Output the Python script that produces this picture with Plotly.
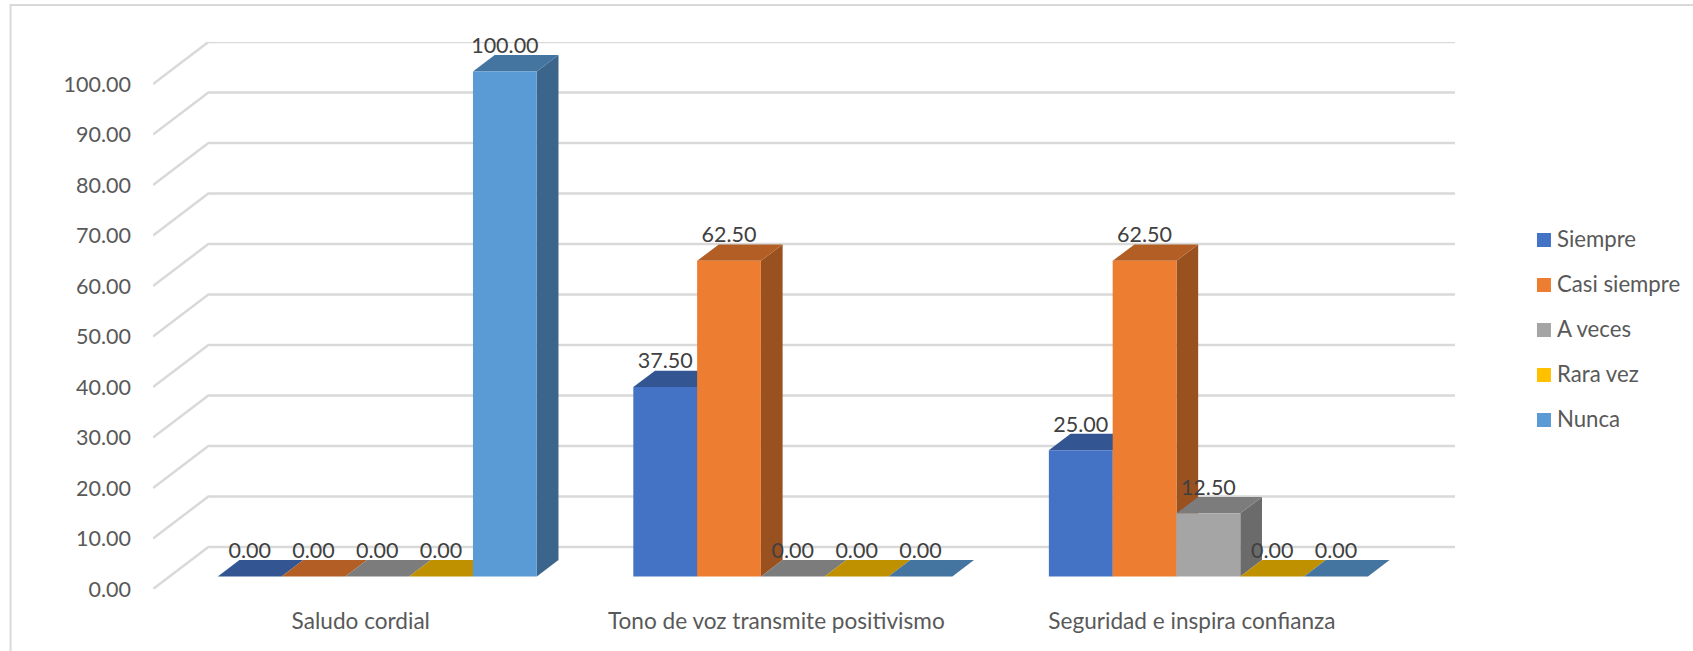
import plotly.graph_objects as go

# Survey results per item, in percent
categories = ["Saludo cordial", "Tono de voz transmite positivismo", "Seguridad e inspira confianza"]
siempre = [0.0, 37.5, 25.0]
casi_siempre = [0.0, 62.5, 62.5]
a_veces = [0.0, 0.0, 12.5]
rara_vez = [0.0, 0.0, 0.0]
nunca = [100.0, 0.0, 0.0]
series_names = ["Siempre", "Casi siempre", "A veces", "Rara vez", "Nunca"]
series_colors = ["#4472C4", "#ED7D31", "#A5A5A5", "#FFC000", "#5B9BD5"]
y_ticks = [0, 10, 20, 30, 40, 50, 60, 70, 80, 90, 100]

series_values = [siempre, casi_siempre, a_veces, rara_vez, nunca]

W, H = 1693, 651
# Plot area in page pixels
LEFT, RIGHT, TOP, BOTTOM = 152.5, 1455.0, 42.0, 589.0
GROUP_PX = 415.2
WALL_DX_PX, WALL_DY_PX = 55.3, 42.0
PX_PER_UNIT = (BOTTOM - TOP - WALL_DY_PX) / 100.0

# Depth of the floor expressed in axis units
wall_dx = WALL_DX_PX / GROUP_PX
wall_dy = WALL_DY_PX / PX_PER_UNIT
x_min = -0.5
x_max = 2.5 + wall_dx
y_max = 100 + wall_dy

# Bar placement inside each category and inside the depth of the floor
BAR_W = 63.75 / GROUP_PX
GROUP_PAD = (1 - 5 * BAR_W) / 2
FRONT = 0.298
BACK = 0.69

GRID = "#D9D9D9"
TEXT = "#595959"
LABEL = "#404040"
FONT = "Lato"


def shade(hex_color, k):
    r, g, b = (int(hex_color[i:i + 2], 16) for i in (1, 3, 5))
    return f"rgb({round(r * k)},{round(g * k)},{round(b * k)})"


def poly(xs, ys, color):
    return go.Scatter(x=xs, y=ys, mode="none", fill="toself", fillcolor=color,
                      hoverinfo="skip", showlegend=False, cliponaxis=False)


def px_x(px):
    return (px - LEFT) / (RIGHT - LEFT)


def px_y(py):
    return (BOTTOM - py) / (BOTTOM - TOP)


fig = go.Figure()

# Side wall and back wall gridlines
for t in y_ticks:
    fig.add_trace(go.Scatter(
        x=[x_min, x_min + wall_dx, x_max], y=[t, t + wall_dy, t + wall_dy],
        mode="lines", line=dict(color=GRID, width=2.5),
        hoverinfo="skip", showlegend=False, cliponaxis=False))

# Boxes are painted left to right, so each one covers its neighbour's side
label_x, label_y, label_text = [], [], []
for c in range(len(categories)):
    for s, values in enumerate(series_values):
        v = values[c]
        color = series_colors[s]
        x0 = c - 0.5 + GROUP_PAD + s * BAR_W + FRONT * wall_dx
        x1 = x0 + BAR_W
        base = FRONT * wall_dy
        top = base + v
        dx = (BACK - FRONT) * wall_dx
        dy = (BACK - FRONT) * wall_dy
        if v > 0:
            fig.add_trace(poly([x1, x1 + dx, x1 + dx, x1], [base, base + dy, top + dy, top],
                               shade(color, 0.65)))
        fig.add_trace(poly([x0, x1, x1 + dx, x0 + dx], [top, top, top + dy, top + dy],
                           shade(color, 0.75)))
        if v > 0:
            fig.add_trace(poly([x0, x1, x1, x0], [base, base, top, top], color))
        label_x.append((x0 + x1) / 2)
        label_y.append(top + 24 / PX_PER_UNIT)
        label_text.append(f"{v:.2f}")

fig.add_trace(go.Scatter(x=label_x, y=label_y, text=label_text, mode="text",
                         textposition="middle center",
                         textfont=dict(family=FONT, size=21.5, color=LABEL),
                         hoverinfo="skip", showlegend=False, cliponaxis=False))

# Outer chart border, running off the page on the right and at the bottom
shapes = [dict(type="rect", xref="paper", yref="paper",
               x0=px_x(10), x1=px_x(W + 20), y0=px_y(5), y1=px_y(H + 20),
               line=dict(color=GRID, width=2), fillcolor="rgba(0,0,0,0)")]

# Legend column
annotations = []
for i, (name, color) in enumerate(zip(series_names, series_colors)):
    cy = 240 + 45 * i
    shapes.append(dict(type="rect", xref="paper", yref="paper",
                       x0=px_x(1537), x1=px_x(1551), y0=px_y(cy - 7), y1=px_y(cy + 7),
                       line=dict(width=0), fillcolor=color))
    annotations.append(dict(xref="paper", yref="paper", x=px_x(1555.5), y=px_y(cy - 1.5),
                            text=name, showarrow=False, xanchor="left", yanchor="middle",
                            font=dict(family=FONT, size=22.2, color=TEXT)))

fig.update_layout(
    width=W, height=H, autosize=False,
    margin=dict(l=LEFT, r=W - RIGHT, t=TOP, b=H - BOTTOM, pad=0),
    paper_bgcolor="white", plot_bgcolor="white",
    showlegend=False, shapes=shapes, annotations=annotations,
    xaxis=dict(range=[x_min, x_max], tickmode="array", tickvals=[0, 1, 2], ticktext=categories,
               showgrid=False, zeroline=False, showline=False, ticks="",
               ticklabelstandoff=16, tickfont=dict(family=FONT, size=22.6, color=TEXT)),
    yaxis=dict(range=[0, y_max], tickmode="array", tickvals=y_ticks,
               ticktext=[f"{t:.2f}" for t in y_ticks],
               showgrid=False, zeroline=False, showline=False, ticks="",
               ticklabelstandoff=21, tickfont=dict(family=FONT, size=21.5, color=TEXT)),
)

fig.write_html("out.html")
